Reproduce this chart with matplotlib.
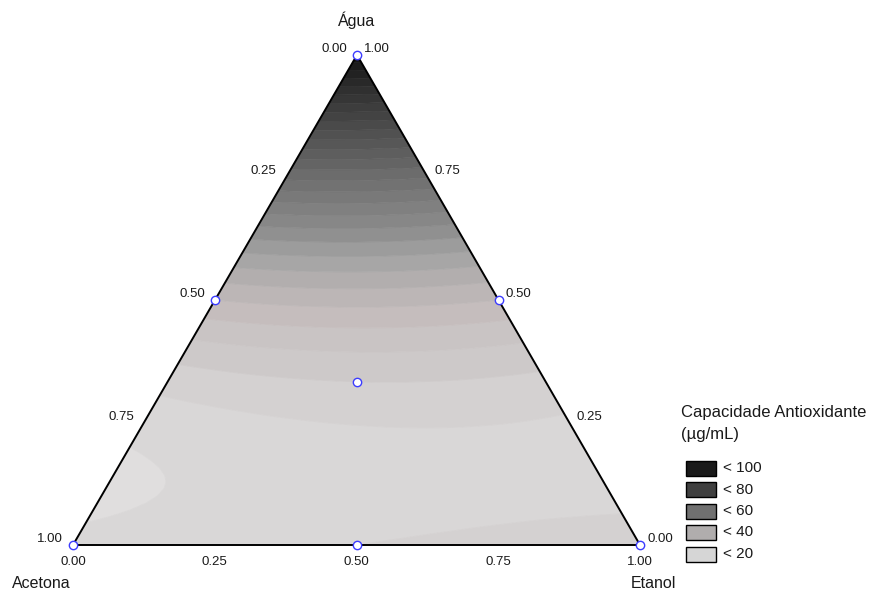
import numpy as np
import matplotlib
matplotlib.use("Agg")
import matplotlib.pyplot as plt
import matplotlib.tri as mtri
from matplotlib.colors import LinearSegmentedColormap
from matplotlib.patches import Rectangle, Polygon

plt.rcParams['font.family'] = ['Liberation Sans', 'DejaVu Sans']
TXT = "#1a1a1a"

# simplex-centroid design: fractions of Água / Acetona / Etanol and response
agua = [1.0, 0.0, 0.0, 0.5, 0.5, 0.0, 1/3]
acetona = [0.0, 1.0, 0.0, 0.5, 0.0, 0.5, 1/3]
etanol = [0.0, 0.0, 1.0, 0.0, 0.5, 0.5, 1/3]
capacidade = [100, 17, 21, 31, 31, 19, 22]

tick_labels = ["0.00", "0.25", "0.50", "0.75", "1.00"]
legend_labels = ["< 100", "< 80", "< 60", "< 40", "< 20"]
legend_colors = ["#1a1a1a", "#404040", "#707070", "#b0adad", "#d6d6d6"]

# corners of the triangle in pixel space
PW, PA, PE = (357, 55), (73, 545), (640, 545)
def to_xy(w, a, e):
    w, a, e = np.asarray(w), np.asarray(a), np.asarray(e)
    return w*PW[0] + a*PA[0] + e*PE[0], w*PW[1] + a*PA[1] + e*PE[1]

# special cubic Scheffe model
def terms(w, a, e):
    w, a, e = np.asarray(w), np.asarray(a), np.asarray(e)
    return np.column_stack([w, a, e, w*a, w*e, a*e, w*a*e])
coef, *_ = np.linalg.lstsq(terms(agua, acetona, etanol), np.array(capacidade, float), rcond=None)

n = 70
gw, ge = [], []
for i in range(n + 1):
    for j in range(n + 1 - i):
        gw.append(i/n); ge.append(j/n)
gw, ge = np.array(gw), np.array(ge)
ga = np.clip(1 - gw - ge, 0, 1)
z = terms(gw, ga, ge) @ coef
gx, gy = to_xy(gw, ga, ge)
tri = mtri.Triangulation(gx, gy)

stops = [(10, "#e9e7e7"), (16, "#dcdada"), (20, "#d4d2d2"), (24, "#ccc8c8"),
         (30, "#c4bcbc"), (34, "#b7b2b2"), (40, "#a2a2a2"), (46, "#8a8a8a"),
         (61, "#686868"), (80, "#3e3e3e"), (100, "#121212")]
cmap = LinearSegmentedColormap.from_list("cap", [((v-10)/90, c) for v, c in stops])
levels = np.arange(10, 104, 3)
band_colors = [cmap(np.clip(((lo+hi)/2 - 10)/90, 0, 1)) for lo, hi in zip(levels[:-1], levels[1:])]

fig = plt.figure(figsize=(8.83, 5.97), dpi=100)
ax = fig.add_axes([0, 0, 1, 1])
ax.set_xlim(0, 883); ax.set_ylim(597, 0); ax.axis("off")

ax.tricontourf(tri, z, levels=levels, colors=band_colors, antialiased=True)
ax.tricontour(tri, z, levels=levels, colors=band_colors, linewidths=0.6)
ax.add_patch(Polygon([PW, PA, PE], closed=True, fill=False, ec="black", lw=1.4, zorder=4))

px, py = to_xy(agua, acetona, etanol)
ax.plot(px, py, "o", mfc="white", mec="#3c3cff", ms=6, mew=1.0, zorder=5, clip_on=False)

fr = np.array([0, 0.25, 0.5, 0.75, 1.0])
# left edge: Acetona fraction
lx, ly = to_xy(1 - fr, fr, 0*fr)
for x, y, t in zip(lx, ly, tick_labels):
    ax.text(x - 23, y - 6, t, fontsize=9.5, ha="center", va="center", color=TXT)
# right edge: Água fraction
rx, ry = to_xy(fr, 0*fr, 1 - fr)
for x, y, t in zip(rx, ry, tick_labels):
    ax.text(x + 20, y - 6, t, fontsize=9.5, ha="center", va="center", color=TXT)
# bottom edge: Etanol fraction
bx, by = to_xy(0*fr, 1 - fr, fr)
for x, y, t in zip(bx, by, tick_labels):
    ax.text(x, y + 17, t, fontsize=9.5, ha="center", va="center", color=TXT)

ax.text(357, 20, "Água", fontsize=11.5, ha="center", va="center", color=TXT)
ax.text(41, 583, "Acetona", fontsize=11.5, ha="center", va="center", color=TXT)
ax.text(653, 583, "Etanol", fontsize=11.5, ha="center", va="center", color=TXT)

# legend
ax.text(681, 412, "Capacidade Antioxidante", fontsize=12, ha="left", va="center", color=TXT)
ax.text(681, 434, "(µg/mL)", fontsize=12, ha="left", va="center", color=TXT)
for k, (lab, c) in enumerate(zip(legend_labels, legend_colors)):
    yc = 468 + k*21.5
    ax.add_patch(Rectangle((686, yc - 7.5), 30, 15, fc=c, ec="black", lw=1.0))
    ax.text(723, yc, lab, fontsize=11, ha="left", va="center", color=TXT)

plt.savefig("out.png", dpi=100, facecolor="white")
